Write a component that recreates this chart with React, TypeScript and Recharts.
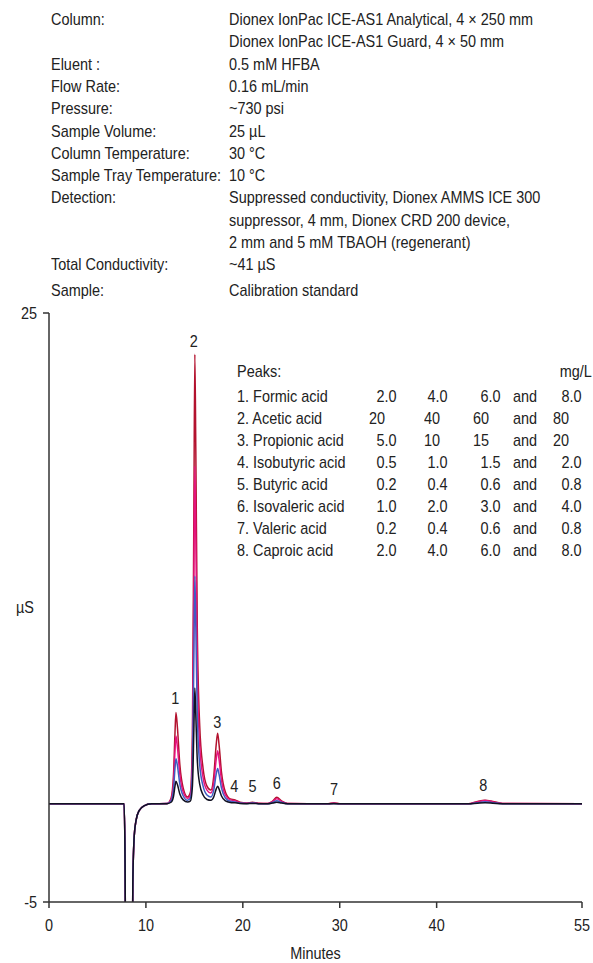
import React from "react";
import { LineChart, Line, XAxis, YAxis, ReferenceDot } from "recharts";

const FONT = '"Liberation Sans", Arial, sans-serif';
const SX = 0.85;
const FS = 17;
const INK = "#222";

const paramLabels = ["Column:", "", "Eluent :", "Flow Rate:", "Pressure:", "Sample Volume:", "Column Temperature:", "Sample Tray Temperature:", "Detection:", "", "", "Total Conductivity:", "Sample:"];
const paramValues = [
  "Dionex IonPac ICE-AS1 Analytical, 4 × 250 mm",
  "Dionex IonPac ICE-AS1 Guard, 4 × 50 mm",
  "0.5 mM HFBA",
  "0.16 mL/min",
  "~730 psi",
  "25 µL",
  "30 °C",
  "10 °C",
  "Suppressed conductivity, Dionex AMMS ICE 300",
  "suppressor, 4 mm, Dionex CRD 200 device,",
  "2 mm and 5 mM TBAOH (regenerant)",
  "~41 µS",
  "Calibration standard",
];

const peakNames = ["1. Formic acid", "2. Acetic acid", "3. Propionic acid", "4. Isobutyric acid", "5. Butyric acid", "6. Isovaleric acid", "7. Valeric acid", "8. Caproic acid"];
const conc1 = ["2.0", "20", "5.0", "0.5", "0.2", "1.0", "0.2", "2.0"];
const conc2 = ["4.0", "40", "10", "1.0", "0.4", "2.0", "0.4", "4.0"];
const conc3 = ["6.0", "60", "15", "1.5", "0.6", "3.0", "0.6", "6.0"];
const conc4 = ["8.0", "80", "20", "2.0", "0.8", "4.0", "0.8", "8.0"];

const peakLabels = ["1", "2", "3", "4", "5", "6", "7", "8"];
const peakLabelX = [13.03, 14.95, 17.37, 19.13, 21.0, 23.5, 29.4, 44.8];
const peakLabelY = [5.4, 23.57, 4.16, 0.9, 0.9, 1.06, 0.75, 0.96];

const times = [0, 7.75, 7.85, 7.95, 8.55, 8.65, 8.8, 9.0, 9.3, 9.8, 10.6, 12.2, 12.6, 12.85, 13.0, 13.1, 13.25, 13.5, 13.85, 14.3, 14.6, 14.8, 14.95, 15.05, 15.15, 15.3, 15.55, 15.9, 16.3, 16.7, 17.0, 17.25, 17.4, 17.55, 17.8, 18.2, 18.7, 19.2, 19.7, 20.4, 21.0, 21.6, 22.6, 23.1, 23.5, 24.0, 24.6, 28.8, 29.4, 30.0, 43.3, 44.2, 45.0, 45.8, 46.8, 55];
const red = [0, 0, -3, -12, -12, -4, -1.6, -0.8, -0.35, -0.1, 0, 0.02, 0.3, 1.5, 3.6, 4.65, 3.9, 2.0, 0.8, 0.35, 0.6, 3.5, 15, 22.9, 18, 9, 4, 1.8, 0.9, 0.7, 1.4, 3.0, 3.6, 3.0, 1.6, 0.6, 0.25, 0.2, 0.08, 0.04, 0.08, 0.03, 0.02, 0.15, 0.33, 0.15, 0.02, 0, 0.05, 0, 0, 0.12, 0.18, 0.12, 0.02, 0];
const magenta = [0, 0, -3, -12, -12, -4, -1.6, -0.8, -0.35, -0.1, 0, 0.02, 0.22, 1.1, 2.7, 3.45, 2.9, 1.5, 0.6, 0.28, 0.45, 2.6, 11.3, 17.2, 13.5, 6.8, 3.0, 1.35, 0.7, 0.55, 1.05, 2.25, 2.7, 2.25, 1.2, 0.45, 0.2, 0.15, 0.06, 0.03, 0.06, 0.02, 0.02, 0.12, 0.26, 0.12, 0.02, 0, 0.03, 0, 0, 0.1, 0.17, 0.1, 0.02, 0];
const blue = [0, 0, -3, -12, -12, -4, -1.6, -0.8, -0.35, -0.1, 0, 0.02, 0.15, 0.75, 1.8, 2.3, 1.95, 1.0, 0.4, 0.18, 0.3, 1.75, 7.5, 11.6, 9, 4.5, 2.0, 0.9, 0.45, 0.35, 0.7, 1.5, 1.8, 1.5, 0.8, 0.3, 0.13, 0.1, 0.04, 0.02, 0.04, 0.01, 0.01, 0.08, 0.16, 0.08, 0.01, 0, 0.02, 0, 0, 0.06, 0.1, 0.06, 0.01, 0];
const black = [0, 0, -3, -12, -12, -4, -1.6, -0.8, -0.35, -0.1, 0, 0.01, 0.08, 0.38, 0.9, 1.15, 0.98, 0.5, 0.2, 0.09, 0.15, 0.9, 3.8, 5.9, 4.5, 2.25, 1.0, 0.45, 0.22, 0.18, 0.35, 0.75, 0.9, 0.75, 0.4, 0.15, 0.07, 0.05, 0.02, 0.01, 0.02, 0.01, 0, 0.04, 0.08, 0.04, 0, 0, 0.01, 0, 0, 0.03, 0.05, 0.03, 0, 0];

const xTicks = [0, 10, 20, 30, 40, 55];
const yTicks = [-5, 25];

const data = times.map((t, i) => ({ t, red: red[i], magenta: magenta[i], blue: blue[i], black: black[i] }));

const txt: React.CSSProperties = {
  position: "absolute", fontFamily: FONT, fontSize: FS, color: INK, whiteSpace: "nowrap",
  lineHeight: "18px", transform: `scaleX(${SX})`, transformOrigin: "left center",
};

const intLeft = [369, 424, 473, 553];
const decRight = [397, 448, 501, 582];

const CText = ({ x, y, anchor, children, dy }: any) => (
  <text transform={`translate(${x} ${y}) scale(${SX} 1)`} x={0} y={0} dy={dy} textAnchor={anchor}
    fontFamily={FONT} fontSize={FS} fill={INK}>{children}</text>
);

const XTick = (props: any) => <CText x={props.x} y={props.y + 8} anchor="middle" dy="0.75em">{props.payload.value}</CText>;
const YTick = (props: any) => <CText x={props.x - 4} y={props.y} anchor="end" dy="0.35em">{props.payload.value}</CText>;

const rowTop = (i: number) => 11 + i * 22.3 + (i === 12 ? 3 : 0);
const tableTop = (r: number) => 388 + r * 21.95;

export default function App() {
  const concCols = [conc1, conc2, conc3, conc4];
  return (
    <div style={{ position: "absolute", left: 0, top: 0, width: 593, height: 963, background: "#fff", overflow: "hidden" }}>
      {paramLabels.map((l, i) => (
        <div key={"l" + i} style={{ ...txt, left: 51, top: rowTop(i) }}>{l}</div>
      ))}
      {paramValues.map((v, i) => (
        <div key={"v" + i} style={{ ...txt, left: 229, top: rowTop(i) }}>{v}</div>
      ))}
      <LineChart width={593} height={963} data={data} margin={{ top: 313, right: 11, bottom: 0, left: 1 }}>
        <XAxis
          dataKey="t"
          type="number"
          domain={[0, 55]}
          ticks={xTicks}
          interval={0}
          stroke="#333"
          strokeWidth={1.5}
          tickSize={6}
          height={61}
          tick={<XTick />}
          label={{
            content: (p: any) => {
              const vb = p.viewBox;
              return <CText x={vb.x + vb.width / 2} y={vb.y + vb.height - 4} anchor="middle">Minutes</CText>;
            },
          }}
        />
        <YAxis
          type="number"
          domain={[-5, 25]}
          ticks={yTicks}
          interval={0}
          allowDataOverflow
          stroke="#333"
          strokeWidth={1.5}
          tickSize={6}
          width={48}
          tick={<YTick />}
          label={{
            content: (p: any) => {
              const vb = p.viewBox;
              return <CText x={25} y={vb.y + vb.height / 2} anchor="middle" dy="0.35em">µS</CText>;
            },
          }}
        />
        <Line type="monotone" dataKey="red" stroke="#b3122e" strokeWidth={1.5} dot={false} isAnimationActive={false} />
        <Line type="monotone" dataKey="magenta" stroke="#e5137e" strokeWidth={1.5} dot={false} isAnimationActive={false} />
        <Line type="monotone" dataKey="blue" stroke="#3f5dc2" strokeWidth={1.5} dot={false} isAnimationActive={false} />
        <Line type="monotone" dataKey="black" stroke="#111122" strokeWidth={1.5} dot={false} isAnimationActive={false} />
        {peakLabels.map((p, i) => (
          <ReferenceDot key={p} x={peakLabelX[i]} y={peakLabelY[i]} r={0} fill="none" stroke="none"
            label={{
              content: (lp: any) => {
                const vb = lp.viewBox;
                return <CText x={vb.x + vb.width / 2} y={vb.y + vb.height / 2} anchor="middle" dy="0.35em">{p}</CText>;
              },
            }} />
        ))}
      </LineChart>
      <div style={{ ...txt, left: 237, top: 363 }}>Peaks:</div>
      <div style={{ ...txt, left: "auto", right: 1, top: 363, transformOrigin: "right center" }}>mg/L</div>
      {peakNames.map((n, r) => (
        <React.Fragment key={n}>
          <div style={{ ...txt, left: 237, top: tableTop(r) }}>{n}</div>
          {concCols.map((col, c) => {
            const v = col[r];
            const isDec = v.indexOf(".") >= 0;
            const pos: React.CSSProperties = isDec
              ? { left: "auto", right: 593 - decRight[c], transformOrigin: "right center" }
              : { left: intLeft[c] };
            return <div key={c} style={{ ...txt, ...pos, top: tableTop(r) }}>{v}</div>;
          })}
          <div style={{ ...txt, left: 513, top: tableTop(r) }}>and</div>
        </React.Fragment>
      ))}
    </div>
  );
}
